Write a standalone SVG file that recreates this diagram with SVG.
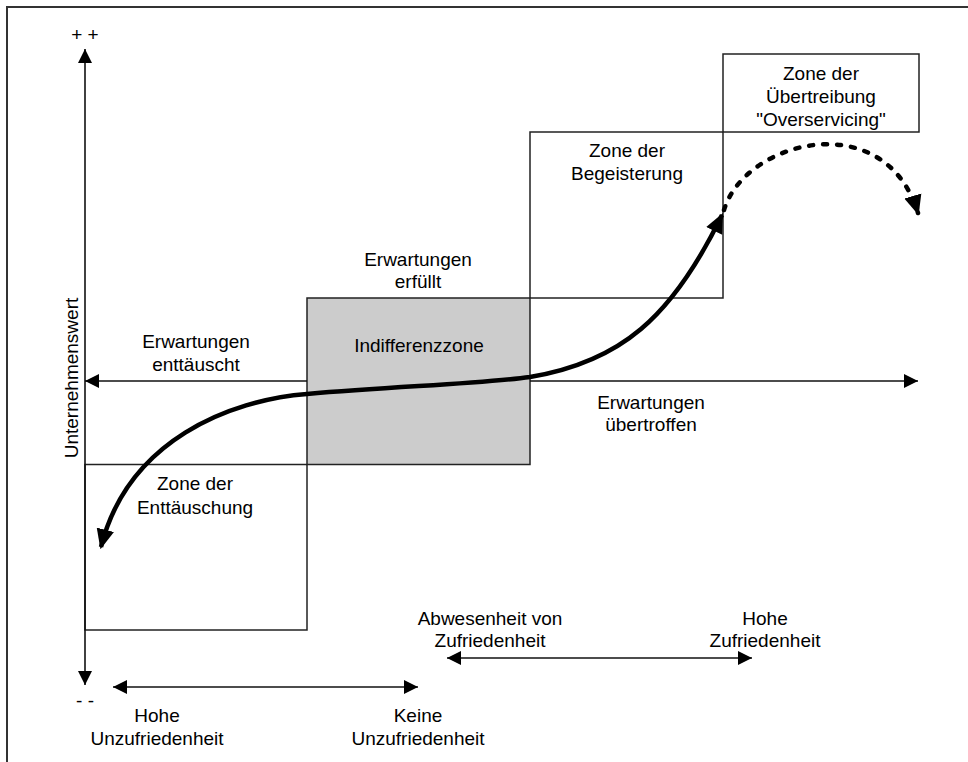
<svg xmlns="http://www.w3.org/2000/svg" width="968" height="762" viewBox="0 0 968 762">
<style>
text{font-family:"Liberation Sans",Arial,sans-serif;font-size:19px;fill:#000;text-anchor:middle}
.box{fill:none;stroke:#222;stroke-width:1.5}
.ln{fill:none;stroke:#111;stroke-width:1.6}
.curve{fill:none;stroke:#000;stroke-width:4.5}
</style>
<defs>
<marker id="ah" markerUnits="userSpaceOnUse" markerWidth="14" markerHeight="14" viewBox="0 0 12 12" refX="12" refY="6" orient="auto-start-reverse">
<path d="M0,0 L12,6 L0,12 z" fill="#000"/>
</marker>
<marker id="bh" markerUnits="userSpaceOnUse" markerWidth="20" markerHeight="20" viewBox="0 0 18 16" refX="16" refY="8" orient="auto-start-reverse">
<path d="M0,0 L18,8 L0,16 z" fill="#000"/>
</marker>
</defs>
<rect x="0" y="0" width="968" height="762" fill="#fff"/>
<rect x="7" y="7" width="975" height="770" fill="none" stroke="#333" stroke-width="2"/>

<g id="zone-enttaeuschung">
<rect class="box" x="85" y="464.5" width="222" height="165.5"/>
<text x="195" y="490">Zone der</text>
<text x="195" y="514">Enttäuschung</text>
</g>
<g id="indifferenzzone">
<rect x="307" y="298" width="223" height="166.5" fill="#cccccc" stroke="#222" stroke-width="1.5"/>
<text x="419" y="352">Indifferenzzone</text>
</g>
<g id="zone-begeisterung">
<rect class="box" x="530" y="132" width="193" height="166"/>
<text x="627" y="157">Zone der</text>
<text x="627" y="180">Begeisterung</text>
</g>
<g id="zone-uebertreibung">
<rect class="box" x="723" y="54" width="196" height="78"/>
<text x="821" y="80">Zone der</text>
<text x="821" y="103">Übertreibung</text>
<text x="821" y="126">"Overservicing"</text>
</g>

<g id="labels">
<text x="85" y="41" font-size="22">+ +</text>
<text x="85" y="707" font-size="24">- -</text>
<text transform="translate(78,378) rotate(-90)">Unternehmenswert</text>
<text x="418" y="266">Erwartungen</text>
<text x="418" y="288">erfüllt</text>
<text x="196" y="348">Erwartungen</text>
<text x="196" y="371">enttäuscht</text>
<text x="651" y="409">Erwartungen</text>
<text x="651" y="431">übertroffen</text>
<text x="490" y="625">Abwesenheit von</text>
<text x="490" y="647">Zufriedenheit</text>
<text x="765" y="625">Hohe</text>
<text x="765" y="647">Zufriedenheit</text>
<text x="157" y="722">Hohe</text>
<text x="157" y="745">Unzufriedenheit</text>
<text x="418" y="722">Keine</text>
<text x="418" y="745">Unzufriedenheit</text>
</g>

<g id="connectors">
<line class="ln" x1="85" y1="685" x2="85" y2="49" marker-start="url(#ah)" marker-end="url(#ah)"/>
<line class="ln" x1="307" y1="381" x2="85" y2="381" marker-end="url(#ah)"/>
<line class="ln" x1="530" y1="381" x2="918" y2="381" marker-end="url(#ah)"/>
<line class="ln" x1="113" y1="687" x2="418" y2="687" marker-start="url(#ah)" marker-end="url(#ah)"/>
<line class="ln" x1="447" y1="658" x2="752" y2="658" marker-start="url(#ah)" marker-end="url(#ah)"/>
<path class="curve" d="M101,547 C128,440 230,400 307,394 C400,386 480,384 530,377 C620,362 672,318 722,215" marker-start="url(#bh)" marker-end="url(#bh)"/>
<path d="M724,210 C745,140 885,105 918,213" fill="none" stroke="#000" stroke-width="4.5" stroke-linecap="round" stroke-dasharray="4 10" marker-end="url(#bh)"/>
</g>
</svg>
